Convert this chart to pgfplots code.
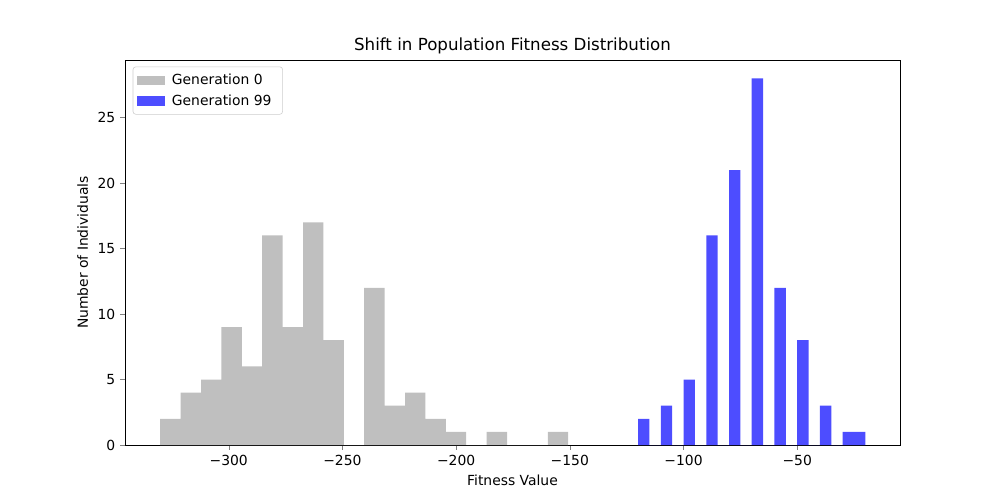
\documentclass[border=0pt]{standalone}
\usepackage{fontspec}
\setmainfont{DejaVu Sans}
\usepackage{pgfplots}
\pgfplotsset{compat=1.18}

\definecolor{gen0}{RGB}{191,191,191}
\definecolor{gen99}{RGB}{77,77,255}

\begin{document}
\begin{tikzpicture}
\useasboundingbox (-90pt,-39.6pt) rectangle (630pt,320.4pt);
\begin{axis}[
    at={(0,0)}, anchor=south west,
    scale only axis,
    width=558pt, height=277.2pt,
    xmin=-345.6, xmax=-4.8,
    ymin=0, ymax=29.4,
    xtick={-300,-250,-200,-150,-100,-50},
    xticklabels={−300,−250,−200,−150,−100,−50},
    ytick={0,5,10,15,20,25},
    /pgf/number format/assume math mode=true,
    tick align=outside,
    major tick length=3.5pt,
    xtick pos=bottom, ytick pos=left,
    ticklabel style={font=\fontsize{10}{12}\selectfont},
    title={Shift in Population Fitness Distribution},
    title style={font=\fontsize{12}{14}\selectfont, yshift=-5.5pt},
    xlabel={Fitness Value},
    ylabel={Number of Individuals},
    label style={font=\fontsize{10}{12}\selectfont},
    legend style={at={(0.01,0.983)}, anchor=north west,
        draw=black!20, rounded corners=2pt,
        font=\fontsize{10}{12}\selectfont,
        row sep=2pt, inner xsep=3pt, inner ysep=3pt,
        nodes={inner xsep=5pt}},
    legend cell align=left,
    legend image code/.code={
        \fill[#1, draw=none, sharp corners] (0pt,-3.3pt) rectangle (20pt,3.3pt);},
]

% Generation 0: 20 bins, left edges (last point closes the last bin)
\addplot[ybar interval, fill=gen0, draw=none] coordinates {
    (-330.10,2) (-321.13,4) (-312.16,5) (-303.19,9) (-294.22,6)
    (-285.25,16) (-276.28,9) (-267.31,17) (-258.34,8) (-249.37,0)
    (-240.40,12) (-231.43,3) (-222.46,4) (-213.49,2) (-204.52,1)
    (-195.55,0) (-186.58,1) (-177.61,0) (-168.64,0) (-159.67,1)
    (-150.70,0)
};
\addlegendentry{Generation 0}

% Generation 99: 20 bins of width 5
\addplot[ybar interval, fill=gen99, draw=none] coordinates {
    (-120,2) (-115,0) (-110,3) (-105,0) (-100,5)
    (-95,0) (-90,16) (-85,0) (-80,21) (-75,0)
    (-70,28) (-65,0) (-60,12) (-55,0) (-50,8)
    (-45,0) (-40,3) (-35,0) (-30,1) (-25,1)
    (-20,0)
};
\addlegendentry{Generation 99}

\end{axis}
\end{tikzpicture}
\end{document}
